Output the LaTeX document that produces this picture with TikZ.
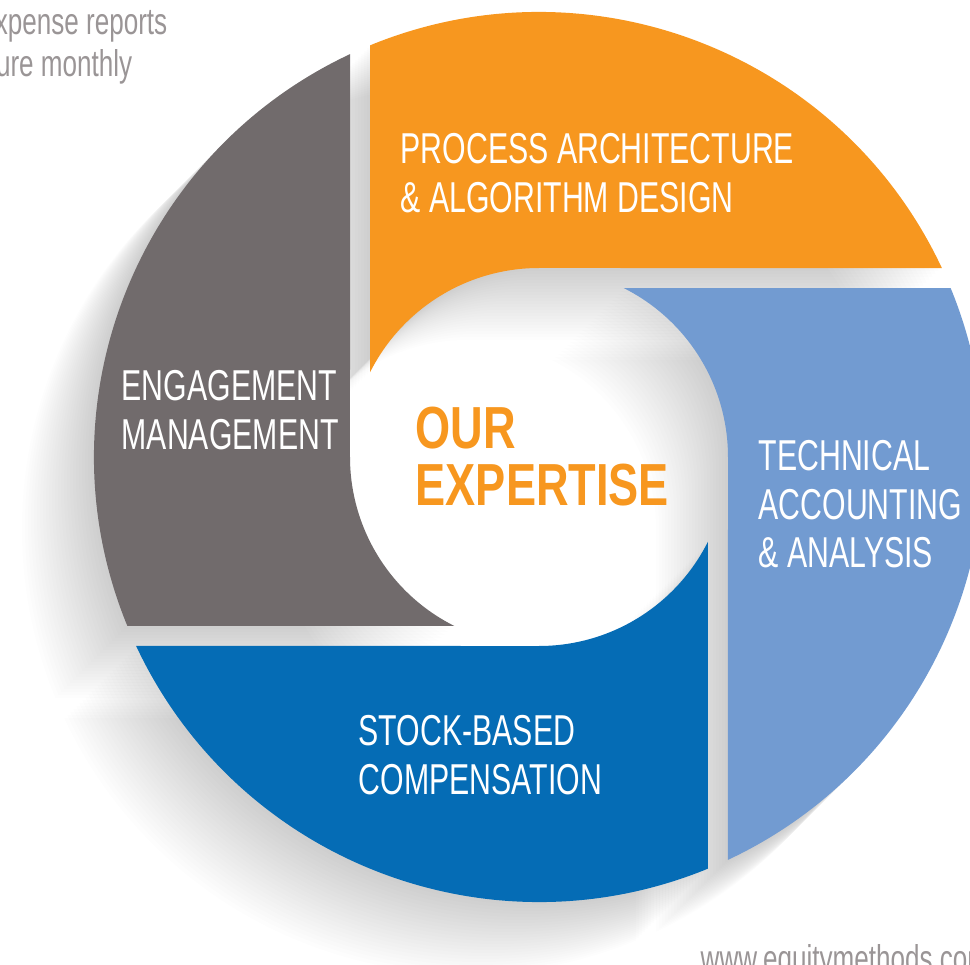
\documentclass[tikz,border=0pt]{standalone}
\usepackage{fontspec}
\usepackage{tikz}
\usetikzlibrary{calc}
\newfontfamily\labelfont[FakeStretch=0.70]{Liberation Sans}
\newfontfamily\titlefont[FakeStretch=0.76]{Liberation Sans}
\definecolor{segorange}{RGB}{247, 151, 31}
\definecolor{seggray}{RGB}{113, 107, 108}
\definecolor{seglight}{RGB}{114, 155, 209}
\definecolor{segdark}{RGB}{5, 108, 181}
\definecolor{notegray}{RGB}{154, 149, 150}

\begin{document}
\begin{tikzpicture}[
    seglabel/.style={anchor=north west, align=left, inner sep=0pt, text=white, font=\labelfont\fontsize{12.3}{13.7}\selectfont},
    note/.style={inner sep=0pt, text=notegray, font=\labelfont\fontsize{10.6}{12}\selectfont}
]

\useasboundingbox (-5.39, -5.07) rectangle (4.31, 4.57);
\clip (-5.39, -5.07) rectangle (4.31, 4.57);

% Ring: inner radius, outer radius, offset of the start cut
\def\rin{1.89}
\def\rout{4.45}
\def\rcut{1.69}
\pgfmathsetmacro\aOut{180-acos(\rcut/\rout)}
\pgfmathsetmacro\aIn{180-acos(\rcut/\rin)}
\pgfmathsetmacro\aEnd{asin(\rin/\rout)}
\def\segment{(\aOut:\rout) -- (\aIn:\rin) arc[start angle=\aIn, end angle=90, radius=\rin]
    -- (\aEnd:\rout) arc[start angle=\aEnd, end angle=\aOut, radius=\rout] -- cycle}

% Drop shadows
\foreach \ang in {0, -90, -180, -270}
    \foreach \s in {0.03, 0.06, ..., 0.72}
        \fill[black, opacity=0.0075, shift={(-\s, -\s)}, rotate=\ang] \segment;

% Segments
\foreach \ang/\col in {0/segorange, -90/seglight, -180/segdark, -270/seggray}
    \fill[\col, rotate=\ang] \segment;

% Labels
\node[seglabel] (process) at (-1.39, 3.24) {PROCESS ARCHITECTURE\\\& ALGORITHM DESIGN};
\node[seglabel] (technical) at (2.19, 0.17) {TECHNICAL\\ACCOUNTING\\\& ANALYSIS};
\node[seglabel] (stock) at (-1.81, -2.58) {STOCK-BASED\\COMPENSATION};
\node[seglabel] (engage) at (-4.18, 0.87) {ENGAGEMENT\\MANAGEMENT};

\node[anchor=north west, align=left, inner sep=0pt, text=segorange,
    font=\titlefont\bfseries\fontsize{16.9}{16.2}\selectfont] (title) at (-1.24, 0.51) {OUR\\EXPERTISE};

% Page remnants
\node[note, anchor=base east] (note1) at (-3.71, 4.22) {xpense reports};
\node[note, anchor=base east] (note2) at (-4.06, 3.80) {ure monthly};
\node[note, anchor=base west] (url) at (1.61, -5.14) {www.equitymethods.com};

\end{tikzpicture}
\end{document}
